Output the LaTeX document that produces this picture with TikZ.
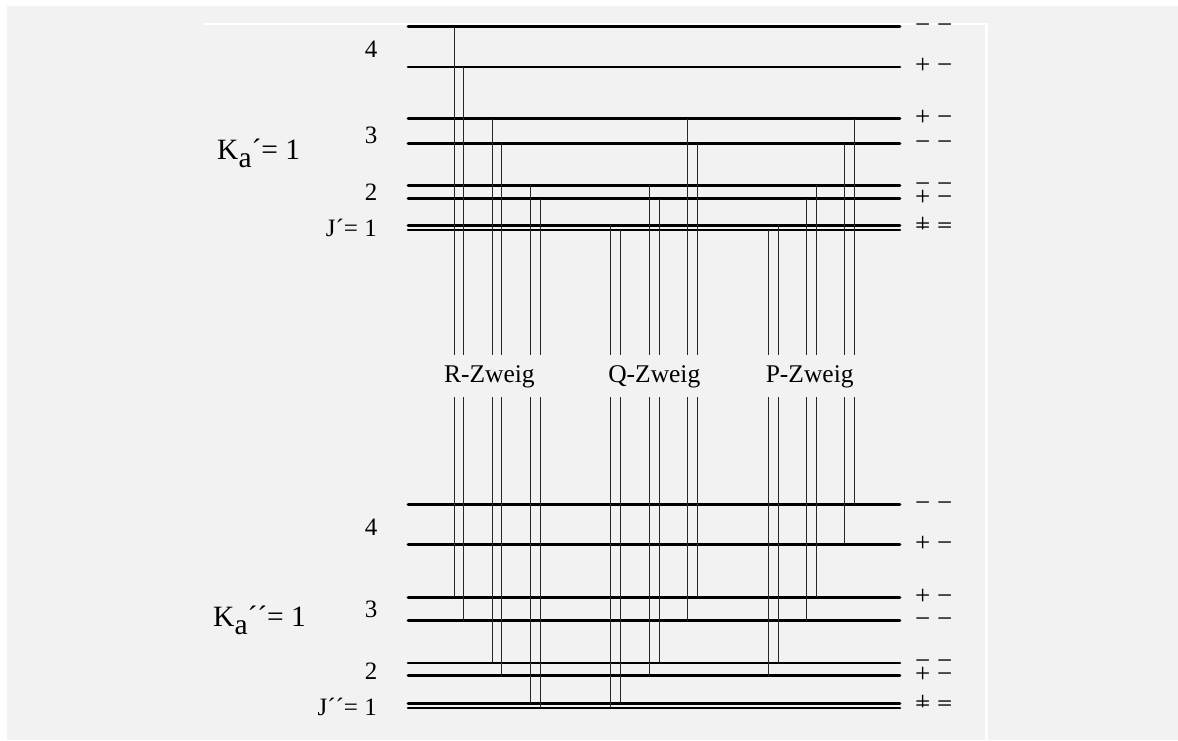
\documentclass[tikz,border=0pt]{standalone}
\usepackage{fontspec}
\setmainfont{Liberation Serif}
\usetikzlibrary{calc}
\definecolor{paper}{HTML}{F2F2F2}

\tikzset{
  level/.style={line width=2.6pt, line cap=round},
  trans/.style={line width=1pt, black!85},
  branch/.style={fill=paper, inner xsep=6pt, inner ysep=10pt,
    text height=17pt, text depth=5pt, font=\fontsize{25.5}{28}\selectfont},
  sign/.style={anchor=base west, inner sep=0pt, yshift=-6.7pt,
    font=\fontsize{27}{30}\selectfont},
  jnum/.style={inner sep=0pt, font=\fontsize{25}{28}\selectfont},
  kalabel/.style={anchor=base west, inner sep=0pt,
    font=\fontsize{29.5}{32}\selectfont}
}

\begin{document}
\begin{tikzpicture}[x=1pt,y=-1pt]
  %% paper
  \useasboundingbox (0,0) rectangle (1178,740);
  \fill[white] (0,0) rectangle (1178,740);
  \fill[paper] (7,6) rectangle (1178,740);
  \draw[white, line width=2.5pt] (203,24) -- (986.5,24) -- (986.5,741);
  %% energy levels (upper u, lower l) with parity signs
  \foreach \lv/\y/\s in {u4a/26.7/{− −}, u4b/67/{+ −}, u3a/118.7/{+ −},
      u3b/143.3/{− −}, u2a/185.3/{− −}, u2b/198.7/{+ −}, u1a/225.3/{+ −},
      u1b/230/{− −}, l4a/504.7/{− −}, l4b/544.3/{+ −}, l3a/597.3/{+ −},
      l3b/620.7/{− −}, l2a/663/{− −}, l2b/675.7/{+ −}, l1a/703.3/{+ −},
      l1b/708/{− −}} {
    \coordinate (\lv) at (408,\y);
    \coordinate (\lv-e) at (900,\y);
    \draw[level] (\lv) -- (\lv-e);
    \node[sign] (\lv-sign) at ([xshift=15pt]\lv-e) {\s};
  }
  %% transitions
  \foreach \x/\a/\b in {454.3/u4a/l3a, 463.7/u4b/l3b, 492.3/u3a/l2a,
      501.7/u3b/l2b, 530.7/u2a/l1a, 540/u2b/l1b, % R
      610.7/u1a/l1b, 620/u1b/l1a, 649/u2a/l2b, 659.3/u2b/l2a,
      687.3/u3a/l3b, 697/u3b/l3a, % Q
      768.3/u1b/l2b, 778.3/u1a/l2a, 806.7/u2b/l3b, 816/u2a/l3a,
      844.3/u3b/l4b, 854.3/u3a/l4a} % P
    \draw[trans] (\x,0 |- \a) -- (\x,0 |- \b);
  %% branch labels
  \node[branch] (rzweig) at (489.4,376) {R-Zweig};
  \node[branch] (qzweig) at (654.3,376) {Q-Zweig};
  \node[branch] (pzweig) at (809.7,376) {P-Zweig};
  %% J labels
  \node[jnum] (ju4) at (371,49.5) {4};
  \node[jnum] (ju3) at (371,135) {3};
  \node[jnum] (ju2) at (371,192.5) {2};
  \node[jnum, anchor=base east] (ju1) at (377,236.5) {J´= 1};
  \node[jnum] (jl4) at (371,527.5) {4};
  \node[jnum] (jl3) at (371,609) {3};
  \node[jnum] (jl2) at (371,671.5) {2};
  \node[jnum, anchor=base east] (jl1) at (377,715) {J´´= 1};
  %% Ka labels
  \node[kalabel] (kaup) at (217,159) {K\raisebox{-8pt}{a}´= 1};
  \node[kalabel] (kalow) at (213,626.5) {K\raisebox{-8pt}{a}´´= 1};
\end{tikzpicture}
\end{document}
